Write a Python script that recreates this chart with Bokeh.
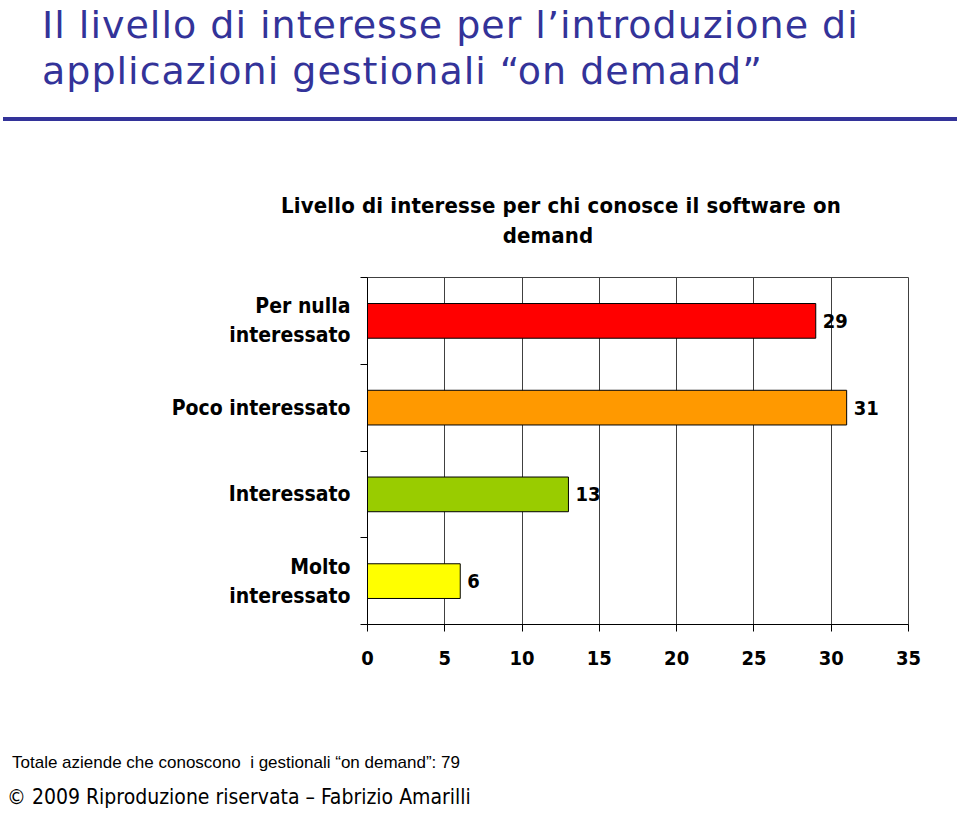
from bokeh.plotting import figure
from bokeh.models import Range1d, FixedTicker, ColumnDataSource, LabelSet, Div
from bokeh.layouts import column
from bokeh.core.properties import value
from bokeh.embed import file_html
from bokeh.resources import INLINE

# ---------------- data ----------------
title_lines = ["Il livello di interesse per l\u2019introduzione di",
               "applicazioni gestionali \u201con demand\u201d"]
chart_title = ["Livello di interesse per chi conosce il software on", "demand"]
categories = ["Per nulla\ninteressato", "Poco interessato", "Interessato", "Molto\ninteressato"]
values = [29, 31, 13, 6]
colors = ["#FF0000", "#FF9900", "#99CC00", "#FFFF00"]
x_ticks = [0, 5, 10, 15, 20, 25, 30, 35]
note = "Totale aziende che conoscono &nbsp;i gestionali \u201con demand\u201d: 79"
copyright_text = "\u00a9 2009 Riproduzione riservata \u2013 Fabrizio Amarilli"

BOLD_FONT = "DejaVu Sans Condensed, DejaVu Sans"
BLUE = "#333399"
W = 960

# ---------------- header (title, rule, chart title) ----------------
def abs_text(txt, left, top, size, family, color="black", weight="normal",
             width=None, align="left", spacing="0px"):
    w = f"width:{width}px;" if width else ""
    return (f'<div style="position:absolute;left:{left}px;top:{top}px;{w}'
            f'font-family:{family};font-size:{size}px;line-height:1;'
            f'font-weight:{weight};color:{color};text-align:{align};'
            f'letter-spacing:{spacing};white-space:nowrap;">{txt}</div>')

hdr = [f'<div style="position:relative;width:{W}px;height:262px;margin:0;padding:0;">']
for txt, top in zip(title_lines, [6, 52]):
    hdr.append(abs_text(txt, 42, top, 38, "'DejaVu Sans'", BLUE, spacing="1px"))
hdr.append(f'<div style="position:absolute;left:3px;top:117px;width:954px;height:4px;'
           f'background:{BLUE};"></div>')
for txt, cx, top in zip(chart_title, [561, 548], [195, 225]):
    hdr.append(abs_text(txt, cx - 350, top, 22, "'DejaVu Sans Condensed','DejaVu Sans'",
                        weight="bold", width=700, align="center", spacing="0.15px"))
hdr.append('</div>')
header = Div(text="".join(hdr), width=W, height=262, margin=(0, 0, 0, 0))

# ---------------- chart ----------------
n = len(categories)
ypos = [n - i - 0.5 for i in range(n)]   # first category at the top
edges = list(range(n + 1))

source = ColumnDataSource(dict(y=ypos, values=values, colors=colors,
                               labels=[str(v) for v in values]))

p = figure(width=W, height=418,
           x_range=Range1d(0, 35), y_range=Range1d(0, n),
           output_backend="svg", toolbar_location=None, title=None,
           min_border_left=367, min_border_right=52,
           min_border_top=15, min_border_bottom=56, margin=(0, 0, 0, 0))

p.hbar(y="y", left=0, right="values", height=0.4, source=source,
       fill_color="colors", line_color="black", line_width=1)

p.outline_line_color = "#404040"
p.outline_line_width = 1
p.ygrid.visible = False
p.xgrid.ticker = FixedTicker(ticks=x_ticks)
p.xgrid.grid_line_color = "#404040"
p.xgrid.grid_line_width = 1

xa = p.xaxis[0]
xa.ticker = FixedTicker(ticks=x_ticks)
xa.axis_line_color = "black"
xa.major_tick_line_color = "black"
xa.major_tick_out = 7
xa.major_tick_in = 0
xa.minor_tick_line_color = None
xa.major_label_text_font = BOLD_FONT
xa.major_label_text_font_style = "bold"
xa.major_label_text_font_size = "20px"
xa.major_label_text_color = "black"
xa.major_label_standoff = 19

ya = p.yaxis[0]
ya.ticker = FixedTicker(ticks=ypos, minor_ticks=edges)
ya.major_label_overrides = {yv: c for yv, c in zip(ypos, categories)}
ya.axis_line_color = "black"
ya.major_tick_line_color = None
ya.major_tick_out = 0
ya.major_tick_in = 0
ya.minor_tick_line_color = "black"
ya.minor_tick_out = 7
ya.minor_tick_in = 0
ya.major_label_standoff = 10
ya.major_label_text_font = BOLD_FONT
ya.major_label_text_font_style = "bold"
ya.major_label_text_font_size = "21px"
ya.major_label_text_color = "black"

p.add_layout(LabelSet(x="values", y="y", text="labels", source=source,
                      x_offset=7, text_baseline="middle", text_align="left",
                      text_font=value(BOLD_FONT), text_font_style="bold",
                      text_font_size="20px", text_color="black"))

# ---------------- footer ----------------
ftr = [f'<div style="position:relative;width:{W}px;height:133px;margin:0;padding:0;">',
       abs_text(note, 12, 74, 17, "'Liberation Sans'"),
       abs_text(copyright_text, 7, 107, 21, "'DejaVu Sans Condensed','DejaVu Sans'"),
       '</div>']
footer = Div(text="".join(ftr), width=W, height=133, margin=(0, 0, 0, 0))

layout = column(header, p, footer, spacing=0, margin=(0, 0, 0, 0))

open("out.html", "w").write(file_html(layout, INLINE))
